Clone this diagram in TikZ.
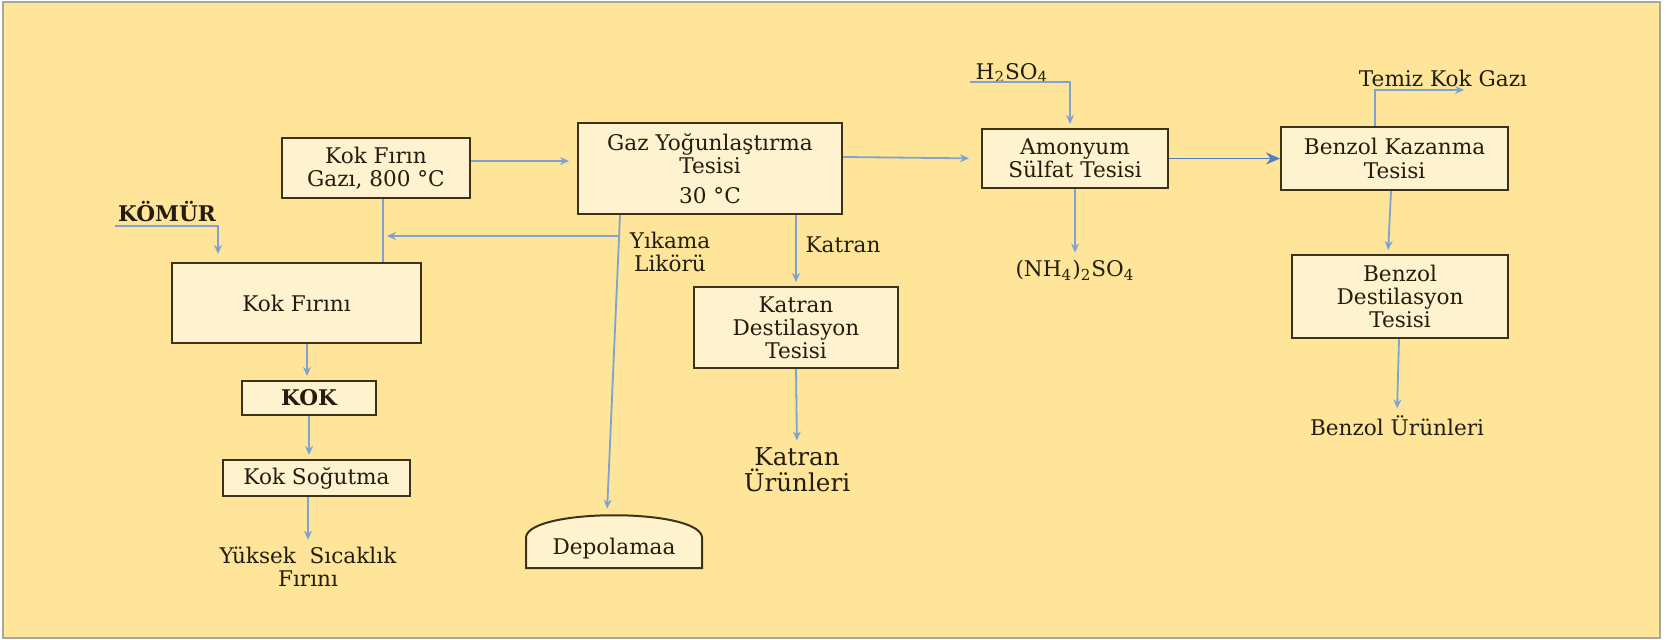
\documentclass[tikz,border=0pt]{standalone}
\usepackage{fontspec}
\setmainfont{DejaVu Serif}
\usetikzlibrary{arrows.meta,calc}
\definecolor{bg}{HTML}{FFE599}
\definecolor{boxfill}{HTML}{FFF3CF}
\definecolor{boxline}{HTML}{3B3218}
\definecolor{flow}{HTML}{7CA3D1}
\definecolor{flowdark}{HTML}{4F7FC0}
\definecolor{txt}{HTML}{231D0E}
\definecolor{framec}{HTML}{A6A6A6}
\begin{document}
\begin{tikzpicture}[x=0.5pt,y=-0.5pt,
 box/.style={draw=boxline, line width=1pt, fill=boxfill, text=txt, align=center, font=\fontsize{10.8}{11.6}\selectfont, inner sep=0pt},
 lbl/.style={text=txt, align=center, font=\fontsize{10.8}{11.6}\selectfont, inner sep=1.5pt},
 flowline/.style={draw=flow, line width=0.9pt},
 arr/.style={flowline, -{Stealth[length=4.5pt,width=4pt]}, shorten >=2pt},
]
\useasboundingbox (0,0) rectangle (1668,640);
\fill[white] (0,0) rectangle (1668,640);
\fill[bg] (3,2) rectangle (1660,638);
\draw[framec, line width=1.2pt] (3,2) rectangle (1660,638);

% boxes
\node[box, minimum width=94pt, minimum height=30pt] (gas) at (376,168) {Kok Fırın\\Gazı, 800 °C};
\node[box, minimum width=124.5pt, minimum height=40pt] (firin) at (296.5,303) {Kok Fırını};
\node[box, minimum width=67pt, minimum height=17pt, font=\fontsize{10.8}{11.6}\selectfont\bfseries] (kok) at (309,398) {KOK};
\node[box, minimum width=93.5pt, minimum height=18pt] (sog) at (316.5,478) {Kok Soğutma};
\node[box, minimum width=132pt, minimum height=45.5pt] (gaz) at (710,168.5) {Gaz Yoğunlaştırma\\Tesisi\\[3pt]30 °C};
\node[box, minimum width=102pt, minimum height=40.5pt] (katd) at (796,327.5) {Katran\\Destilasyon\\Tesisi};
\node[box, minimum width=93pt, minimum height=29.5pt] (amon) at (1075,158.5) {Amonyum\\Sülfat Tesisi};
\node[box, minimum width=113.5pt, minimum height=31.5pt] (benk) at (1394.5,158.5) {Benzol Kazanma\\Tesisi};
\node[box, minimum width=108pt, minimum height=41.5pt] (bend) at (1400,296.5) {Benzol\\Destilasyon\\Tesisi};

% storage
\draw[draw=boxline, line width=1pt, fill=boxfill] (526,568) -- (526,537) .. controls (530,508) and (698,508) .. (702,537) -- (702,568) -- cycle;
\node[lbl, minimum height=36pt, inner sep=0pt] (depo) at (614,549) {Depolamaa};

% labels
\node[lbl, font=\fontsize{10.8}{11.6}\selectfont\bfseries] (komur) at (167,212) {KÖMÜR};
\node[lbl] (yuksek) at (308,567) {Yüksek\ \ Sıcaklık\\Fırını};
\node[lbl] (yikama) at (670,252) {Yıkama\\Likörü};
\node[lbl] (katranlbl) at (843,245) {Katran};
\node[lbl, font=\fontsize{12.3}{13}\selectfont] (katur) at (797,470) {Katran\\Ürünleri};
\node[lbl] (h2so4) at (1012,73) {H\textsubscript{2}SO\textsubscript{4}};
\node[lbl] (nh4) at (1075,270) {(NH\textsubscript{4})\textsubscript{2}SO\textsubscript{4}};
\node[lbl] (temiz) at (1443,78) {Temiz Kok Gazı};
\node[lbl] (benur) at (1397,426) {Benzol Ürünleri};

% connectors
\coordinate (k0) at (115,226);
\draw[arr, shorten >=4pt] (k0) -| ($(firin.north west)+(47,0)$);
\coordinate (gx) at (383,0);
\draw[flowline] (firin.north -| gx) -- (gas.south -| gx);
\draw[arr] ($(gaz.south west)+(43,0)$) -- ([xshift=-3.5pt]depo.north);
\coordinate (yk) at (620.2,236);
\draw[arr] (yk) -- (yk -| gx);
\draw[arr, shorten >=4pt] ([yshift=3.5pt]gas.east) -- ([yshift=3.5pt]gas.east -| gaz.west);
\draw[arr, shorten >=6pt] ([yshift=5.75pt]gaz.east) -- (amon.west);
\coordinate (h0) at (970,82);
\draw[arr] (h0) -| ($(amon.north)+(-5,0)$);
\draw[arr] (amon.south) -- (nh4.north);
\draw[draw=flowdark, line width=0.9pt, -{Stealth[length=7pt,width=6pt]}] (amon.east) -- (benk.west);
\coordinate (t1) at (1468,90);
\draw[arr] ($(benk.north)+(-19.5,0)$) |- (t1);
\draw[arr] ($(benk.south)+(-3.5,0)$) -- ($(bend.north)+(-12,0)$);
\draw[arr] ($(bend.south)+(-1,0)$) -- (benur.north);
\coordinate (kx) at ($(kok.north)+(-2,0)$);
\draw[arr] (kx |- firin.south) -- (kx);
\draw[arr] (kok.south) -- (kok.south |- sog.north);
\draw[arr] (sog.south -| yuksek.north) -- (yuksek.north);
\draw[arr] (gaz.south -| katd.north) -- (katd.north);
\draw[arr] (katd.south) -- (katur.north);
\end{tikzpicture}
\end{document}
